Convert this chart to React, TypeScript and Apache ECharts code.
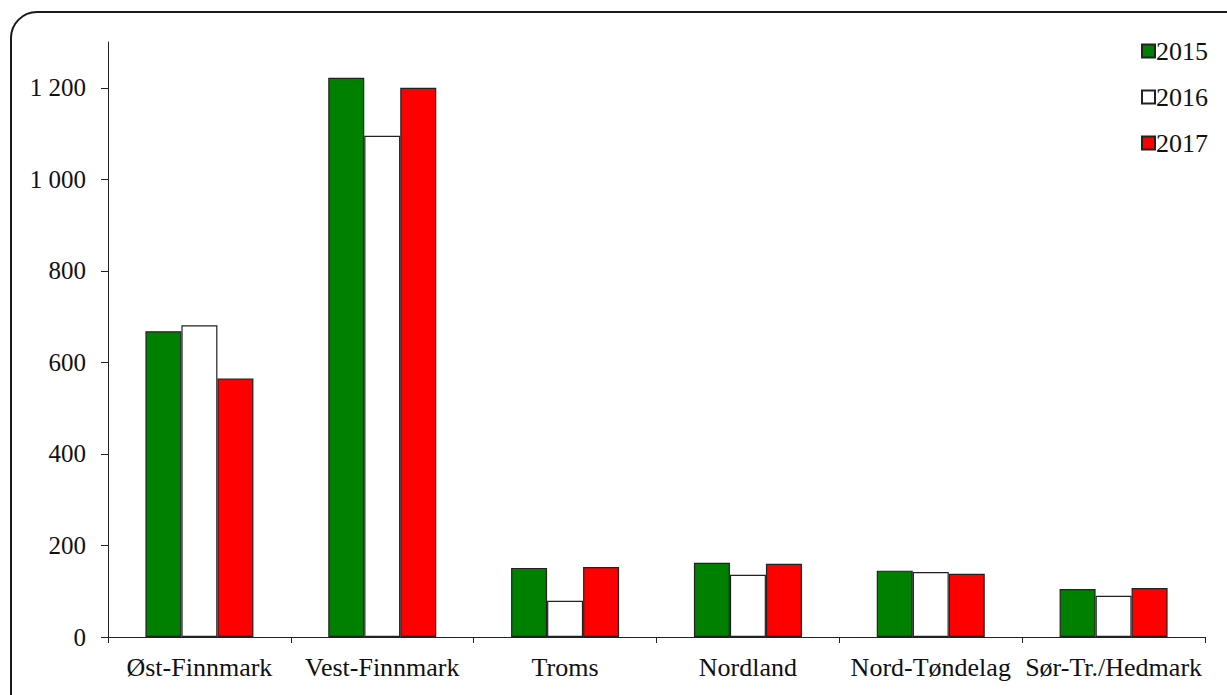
import React, { useEffect, useRef } from "react";
import * as echarts from "echarts";

const categories = ["Øst-Finnmark", "Vest-Finnmark", "Troms", "Nordland", "Nord-Tøndelag", "Sør-Tr./Hedmark"];
const seriesNames = ["2015", "2016", "2017"];
const values2015 = [668, 1222, 151, 162, 145, 105];
const values2016 = [681, 1095, 79, 136, 142, 90];
const values2017 = [565, 1200, 153, 160, 138, 107];
const yTicks = [0, 200, 400, 600, 800, 1000, 1200];
const colors = ["#008000", "#ffffff", "#ff0000"];

const FONT = "Liberation Serif";

export default function App() {
  const ref = useRef<HTMLDivElement>(null);
  useEffect(() => {
    if (!ref.current) return;
    const chart = echarts.init(ref.current, undefined, { renderer: "svg" });
    const data = [values2015, values2016, values2017];
    chart.setOption({
      animation: false,
      textStyle: { fontFamily: FONT },
      graphic: [
        {
          type: "rect",
          shape: { x: 11, y: 12, width: 1240, height: 720, r: 26 },
          style: { fill: "none", stroke: "#1a1a1a", lineWidth: 2 },
          silent: true,
        },
      ],
      grid: { left: 108, right: 22, top: 42, bottom: 58 },
      legend: {
        orient: "vertical",
        right: 14,
        top: 33,
        itemWidth: 13,
        itemHeight: 13,
        itemGap: 20,
        icon: "rect",
        data: seriesNames,
        textStyle: { fontFamily: FONT, fontSize: 26, color: "#111", padding: [0, 0, 0, -4] },
      },
      xAxis: {
        type: "category",
        data: categories,
        axisLine: { lineStyle: { color: "#222", width: 1 } },
        axisTick: { show: true, length: 6, lineStyle: { color: "#222" } },
        axisLabel: { fontFamily: FONT, fontSize: 26, color: "#111", margin: 17, interval: 0 },
      },
      yAxis: {
        type: "value",
        min: 0,
        max: 1300,
        interval: 200,
        splitLine: { show: false },
        axisLine: { show: true, lineStyle: { color: "#222", width: 1 } },
        axisTick: { show: true, length: 7, lineStyle: { color: "#222" }, customValues: yTicks },
        axisLabel: {
          fontFamily: FONT,
          fontSize: 25,
          color: "#111",
          margin: 22,
          customValues: yTicks,
          formatter: (v: number) => String(v).replace(/\B(?=(\d{3})+(?!\d))/g, " "),
        },
      },
      series: seriesNames.map((name, i) => ({
        name,
        type: "bar",
        data: data[i],
        barWidth: 36,
        barGap: "0%",
        itemStyle: { color: colors[i], borderColor: "#222", borderWidth: 1.2 },
      })),
    });
    return () => chart.dispose();
  }, []);
  return (
    <div
      ref={ref}
      style={{ position: "fixed", left: 0, top: 0, width: 1227, height: 695, background: "#fff" }}
    />
  );
}
